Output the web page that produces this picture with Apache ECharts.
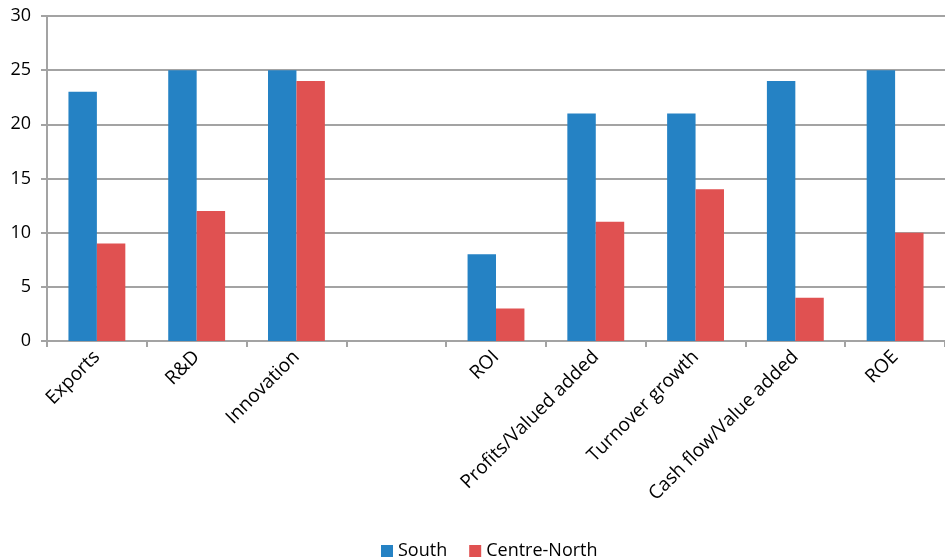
<!DOCTYPE html>
<html>
<head>
<meta charset="utf-8">
<script src="https://cdn.jsdelivr.net/npm/echarts@6/dist/echarts.min.js"></script>
<style>
    html, body { margin: 0; padding: 0; background: #fff; }
    #chart { width: 945px; height: 560px; }
</style>
</head>
<body>
<div id="chart"></div>
<script>
    const categories = ['Exports', 'R&D', 'Innovation', '', 'ROI', 'Profits/Valued added',
        'Turnover growth', 'Cash flow/Value added', 'ROE'];
    const south = [23, 25, 25, null, 8, 21, 21, 24, 25];
    const centreNorth = [9, 12, 24, null, 3, 11, 14, 4, 10];
    const yTicks = { min: 0, max: 30, interval: 5 };

    const font = 'Open Sans';
    const gray = '#a3a3a3';

    const chart = echarts.init(document.getElementById('chart'));
    chart.setOption({
        animation: false,
        textStyle: { fontFamily: font },
        grid: { left: 47, right: -4, top: 16, bottom: 219 },
        legend: {
            left: 376,
            top: 537,
            itemWidth: 12,
            itemHeight: 12,
            itemGap: 22,
            icon: 'rect',
            textStyle: { fontSize: 18, color: '#000', fontFamily: font },
            data: ['South', 'Centre-North']
        },
        xAxis: {
            type: 'category',
            data: categories,
            axisLine: { lineStyle: { color: gray, width: 2 } },
            axisTick: { show: true, length: 6, lineStyle: { color: gray, width: 2 } },
            axisLabel: {
                interval: 0,
                rotate: 45,
                margin: 13,
                fontSize: 19,
                color: '#000'
            }
        },
        yAxis: {
            type: 'value',
            min: yTicks.min,
            max: yTicks.max,
            interval: yTicks.interval,
            axisLine: { show: true, lineStyle: { color: gray, width: 2 } },
            axisTick: { show: true, length: 6, lineStyle: { color: gray, width: 2 } },
            splitLine: { lineStyle: { color: gray, width: 2 } },
            axisLabel: { fontSize: 18, color: '#000', margin: 16 }
        },
        series: [
            {
                name: 'South',
                type: 'bar',
                data: south,
                barGap: '0%',
                barCategoryGap: '43%',
                itemStyle: { color: '#2582c4' }
            },
            {
                name: 'Centre-North',
                type: 'bar',
                data: centreNorth,
                itemStyle: { color: '#e05151' }
            }
        ]
    });
</script>
</body>
</html>
